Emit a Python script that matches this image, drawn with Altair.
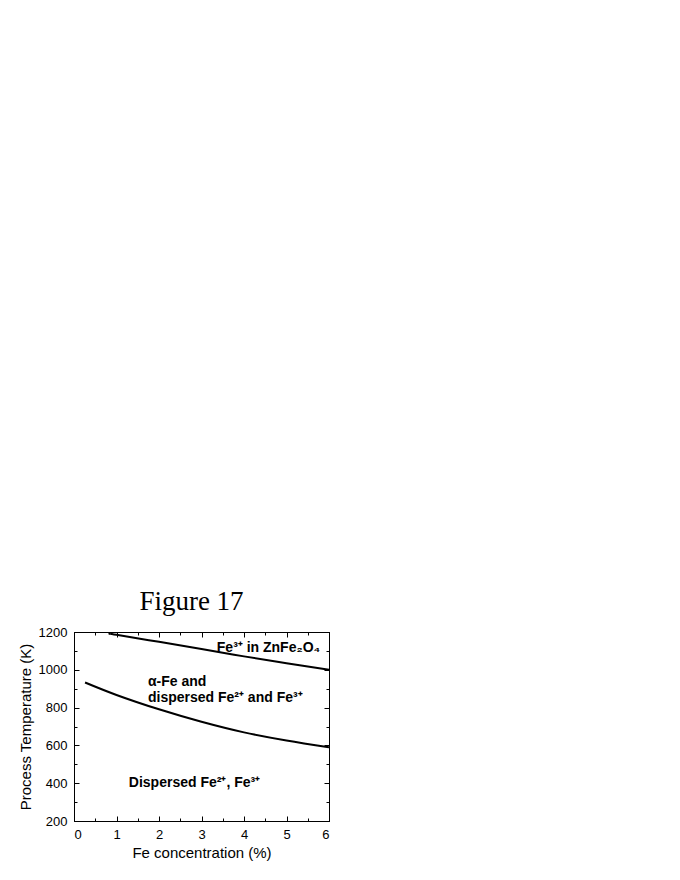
import altair as alt
import pandas as pd

# Boundary curves
upper_x = [0.85, 1.0, 2.0, 3.0, 4.0, 5.0, 6.0]
upper_t = [1190, 1185, 1148, 1110, 1071, 1035, 1000]
lower_x = [0.26, 1.0, 2.0, 3.0, 4.0, 5.0, 6.0]
lower_t = [933, 867, 791, 725, 669, 626, 590]

label_text = ["Fe³⁺ in ZnFe₂O₄", "α-Fe and", "dispersed Fe²⁺ and Fe³⁺", "Dispersed Fe²⁺, Fe³⁺"]
label_x = [3.36, 1.74, 1.74, 1.29]
label_t = [1117, 936, 853, 400]

x_ticks = [0, 0.5, 1, 1.5, 2, 2.5, 3, 3.5, 4, 4.5, 5, 5.5, 6]
y_ticks = [200, 300, 400, 500, 600, 700, 800, 900, 1000, 1100, 1200]

lines = pd.DataFrame(
    {"x": upper_x + lower_x, "t": upper_t + lower_t,
     "curve": ["upper"] * len(upper_x) + ["lower"] * len(lower_x)}
)
labels = pd.DataFrame({"x": label_x, "t": label_t, "text": label_text})

xscale = alt.Scale(domain=[0, 6], nice=False, zero=False)
yscale = alt.Scale(domain=[200, 1200], nice=False, zero=False)

FONT = "Liberation Sans"

x_tick_size = {"condition": {"test": "datum.value % 1 === 0", "value": -5}, "value": -3}
y_tick_size = {"condition": {"test": "datum.value % 200 === 0", "value": -5}, "value": -3}

x_axis = alt.Axis(values=x_ticks, labelExpr="datum.value % 1 === 0 ? '' + datum.value : ''",
                  tickSize=x_tick_size, grid=False, domainColor="black", tickColor="black",
                  labelFont=FONT, labelFontSize=13, labelColor="black", labelPadding=12,
                  title="Fe concentration (%)", titleFont=FONT, titleFontSize=15,
                  titleFontWeight="normal", titleColor="black", titlePadding=4)
y_axis = alt.Axis(values=y_ticks, labelExpr="datum.value % 200 === 0 ? '' + datum.value : ''",
                  tickSize=y_tick_size, grid=False, domainColor="black", tickColor="black",
                  labelFont=FONT, labelFontSize=13, labelColor="black", labelPadding=12,
                  title="Process Temperature (K)", titleFont=FONT, titleFontSize=15,
                  titleFontWeight="normal", titleColor="black", titlePadding=5)

x_axis_top = alt.Axis(orient="top", values=x_ticks, labels=False, title=None,
                      tickSize=x_tick_size, grid=False, domainColor="black", tickColor="black")
y_axis_right = alt.Axis(orient="right", values=y_ticks, labels=False, title=None,
                        tickSize=y_tick_size, grid=False, domainColor="black", tickColor="black")

curves = alt.Chart(lines).mark_line(color="black", strokeWidth=2, interpolate="natural").encode(
    x=alt.X("x:Q", scale=xscale, axis=x_axis),
    y=alt.Y("t:Q", scale=yscale, axis=y_axis),
    detail="curve:N",
)

frame = alt.Chart(lines).mark_line(strokeOpacity=0).encode(
    x=alt.X("x:Q", scale=xscale, axis=x_axis_top),
    y=alt.Y("t:Q", scale=yscale, axis=y_axis_right),
    detail="curve:N",
)

text = alt.Chart(labels).mark_text(
    align="left", baseline="middle", font=FONT, fontSize=14, fontWeight="bold", color="black"
).encode(x=alt.X("x:Q", scale=xscale, axis=None),
         y=alt.Y("t:Q", scale=yscale, axis=None), text="text:N")

chart = alt.layer(curves, frame, text).resolve_axis(
    x="independent", y="independent"
).properties(
    width=255, height=189,
    padding={"top": 580, "left": 10, "right": 5, "bottom": 5},
    title=alt.TitleParams("Figure 17", font="Liberation Serif", fontSize=27,
                          fontWeight="normal", color="black", offset=10, dx=-10),
).configure_view(stroke="black", strokeWidth=1)

chart.save("out.html", embed_options={"renderer": "svg", "actions": False})
